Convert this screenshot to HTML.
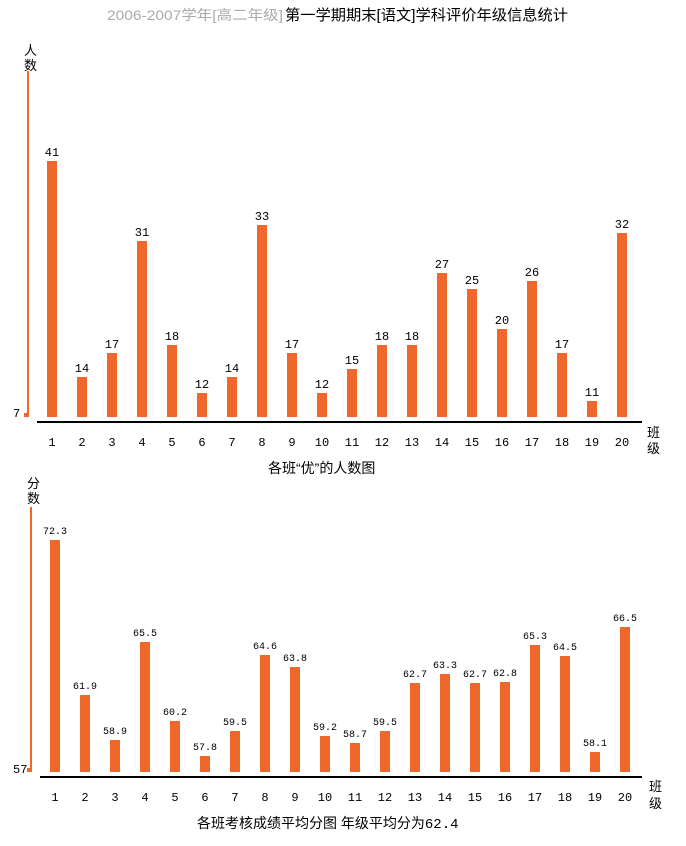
<!DOCTYPE html>
<html><head><meta charset="utf-8"><style>
body{margin:0;background:#fff;width:686px;height:841px;overflow:hidden;font-family:"Liberation Sans","Noto Sans CJK SC",sans-serif}
</style></head><body>
<svg width="686" height="841" xmlns="http://www.w3.org/2000/svg" font-family="Liberation Sans, Noto Sans CJK SC, sans-serif">
<text x="107" y="20" font-size="14" fill="#aaa" textLength="176" lengthAdjust="spacingAndGlyphs">2006-2007学年[高二年级]</text>
<text x="285" y="20" font-size="15" fill="#000" textLength="283" lengthAdjust="spacingAndGlyphs">第一学期期末[语文]学科评价年级信息统计</text>
<text x="24" y="55" font-size="13">人</text><text x="24" y="70" font-size="13">数</text>
<rect x="27" y="71" width="2" height="346" fill="#f0672c"/>
<rect x="24" y="413" width="5" height="4" fill="#f0672c"/>
<text x="13" y="417" font-size="12" font-family="Liberation Mono, monospace">7</text>
<rect x="37" y="421" width="605" height="2" fill="#000"/>
<g id="c1"></g>
<text x="647" y="437" font-size="13">班</text><text x="647" y="453" font-size="13">级</text>
<text x="268" y="473" font-size="14">各班“优”的人数图</text>
<text x="27" y="488" font-size="13">分</text><text x="27" y="503" font-size="13">数</text>
<rect x="30" y="507" width="2" height="265" fill="#f0672c"/>
<rect x="27" y="768" width="5" height="4" fill="#f0672c"/>
<text x="13" y="773" font-size="12" font-family="Liberation Mono, monospace">57</text>
<rect x="40" y="776" width="602" height="2" fill="#000"/>
<g id="c2"></g>
<text x="649" y="791" font-size="13">班</text><text x="649" y="808" font-size="13">级</text>
<text x="197" y="828" font-size="14">各班考核成绩平均分图 年级平均分为<tspan font-family="Liberation Mono, monospace">62.4</tspan></text>
</svg>
<script>
var ns="http://www.w3.org/2000/svg";
function add(g,tag,a,t){var e=document.createElementNS(ns,tag);for(var k in a)e.setAttribute(k,a[k]);if(t!==undefined)e.textContent=t;g.appendChild(e);}
var mono="Liberation Mono, monospace";
var d1=[41,14,17,31,18,12,14,33,17,12,15,18,18,27,25,20,26,17,11,32];
var g1=document.getElementById("c1");
d1.forEach(function(v,i){var x=47+i*30,top=161+(41-v)*8;
add(g1,"rect",{x:x,y:top,width:10,height:417-top,fill:"#f0672c"});
add(g1,"text",{x:x+5,y:top-5,"font-size":12,"text-anchor":"middle","font-family":mono},v);
add(g1,"text",{x:x+5,y:446,"font-size":12,"text-anchor":"middle","font-family":mono},i+1);});
var d2=[72.3,61.9,58.9,65.5,60.2,57.8,59.5,64.6,63.8,59.2,58.7,59.5,62.7,63.3,62.7,62.8,65.3,64.5,58.1,66.5];
var g2=document.getElementById("c2");
d2.forEach(function(v,i){var x=50+i*30,top=Math.round(540+(72.3-v)*14.93);
add(g2,"rect",{x:x,y:top,width:10,height:772-top,fill:"#f0672c"});
add(g2,"text",{x:x+5,y:top-6,"font-size":10,"text-anchor":"middle","font-family":mono},v.toFixed(1));
add(g2,"text",{x:x+5,y:801,"font-size":12,"text-anchor":"middle","font-family":mono},i+1);});
</script>
</body></html>
